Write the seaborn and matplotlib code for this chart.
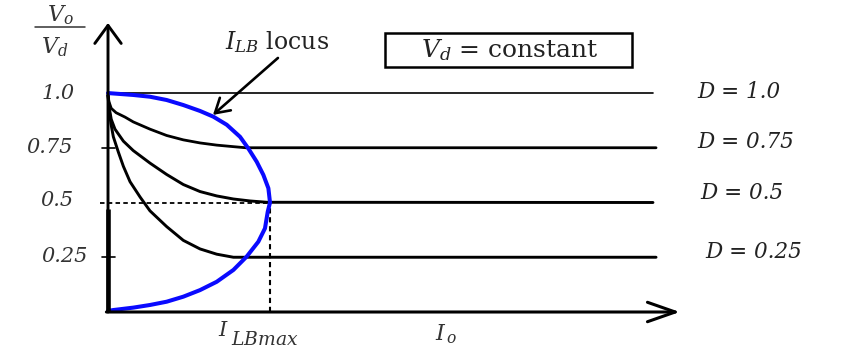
import matplotlib
matplotlib.use("Agg")
import matplotlib.pyplot as plt
from matplotlib.patches import Rectangle
import pandas as pd
import seaborn as sns

sns.set_theme(style="white")
plt.rcParams["font.family"] = ["DejaVu Serif"]
plt.rcParams["mathtext.fontset"] = "dejavuserif"

# Output ratio Vo/Vd against load current Io (Io in units of I_LBmax)
duty_labels = ["D = 1.0", "D = 0.75", "D = 0.5", "D = 0.25"]

d100_io = [0.0, 3.364]
d100_vo = [1.0, 1.0]

d75_io = [0.0, 0.006, 0.02, 0.05, 0.105, 0.156, 0.259, 0.362, 0.465, 0.568, 0.671, 0.774, 0.85, 3.383]
d75_vo = [0.99, 0.96, 0.93, 0.91, 0.89, 0.868, 0.835, 0.806, 0.786, 0.772, 0.762, 0.755, 0.75, 0.75]

d50_io = [0.0, 0.008, 0.02, 0.043, 0.095, 0.156, 0.259, 0.362, 0.465, 0.568, 0.671, 0.774, 0.877, 0.98, 3.364]
d50_vo = [0.99, 0.93, 0.88, 0.835, 0.78, 0.737, 0.68, 0.628, 0.582, 0.55, 0.53, 0.516, 0.507, 0.501, 0.5]

d25_io = [0.0, 0.006, 0.018, 0.033, 0.064, 0.095, 0.136, 0.198, 0.259, 0.362, 0.465, 0.568, 0.671, 0.774, 3.383]
d25_vo = [0.99, 0.93, 0.86, 0.80, 0.73, 0.665, 0.595, 0.525, 0.462, 0.39, 0.327, 0.288, 0.264, 0.25, 0.25]

# boundary between continuous and discontinuous conduction
locus_io = [0.0, 0.012, 0.156, 0.259, 0.362, 0.465, 0.568, 0.650, 0.733, 0.815, 0.866,
            0.918, 0.959, 0.990, 1.0, 0.986, 0.969, 0.928, 0.856, 0.774, 0.671, 0.568,
            0.465, 0.362, 0.259, 0.156, 0.033, 0.0]
locus_vo = [1.0, 0.999, 0.991, 0.983, 0.968, 0.945, 0.918, 0.892, 0.855, 0.800, 0.747,
            0.686, 0.626, 0.565, 0.5, 0.458, 0.382, 0.321, 0.253, 0.192, 0.138, 0.100,
            0.070, 0.047, 0.032, 0.020, 0.009, 0.005]

ytick_values = [1.0, 0.75, 0.5, 0.25]
ytick_labels = ["1.0", "0.75", "0.5", "0.25"]

curves = pd.concat(
    [
        pd.DataFrame({"io": io, "vo": vo, "duty": lab})
        for lab, io, vo in zip(
            duty_labels,
            [d100_io, d75_io, d50_io, d25_io],
            [d100_vo, d75_vo, d50_vo, d25_vo],
        )
    ],
    ignore_index=True,
)
locus = pd.DataFrame({"io": locus_io, "vo": locus_vo})

fig = plt.figure(figsize=(8.44, 3.49), dpi=100)
ax = fig.add_axes([0, 0, 1, 1])
ax.set_xlim(-0.6667, 4.5432)
ax.set_ylim(-0.16895, 1.42466)
ax.axis("off")

# duty-cycle curves
line_widths = {"D = 1.0": 1.2, "D = 0.75": 2.0, "D = 0.5": 2.1, "D = 0.25": 2.1}
for lab in duty_labels:
    sns.lineplot(data=curves[curves["duty"] == lab], x="io", y="vo", sort=False,
                 estimator=None, color="black", linewidth=line_widths[lab],
                 solid_joinstyle="round", ax=ax, legend=False, zorder=3)

# reference dashes at the peak boundary current
ax.plot([-0.049, 1.0], [0.5, 0.5], color="black", lw=1.3, ls=(0, (2.5, 1.8)), zorder=2)
ax.plot([1.0, 1.0], [0.0, 0.5], color="black", lw=1.5, ls=(0, (2.5, 1.8)), zorder=2)

sns.lineplot(data=locus, x="io", y="vo", sort=False, estimator=None,
             color="#0a0aff", linewidth=2.9, solid_joinstyle="round", ax=ax, zorder=4)

# axes with arrow heads
ax.plot([0, 0], [0, 0.47], color="black", lw=3.3, solid_capstyle="butt", zorder=5)
ax.annotate("", xy=(0, 1.32), xytext=(0, 0.0),
            arrowprops=dict(arrowstyle="->,head_length=13,head_width=9.5",
                            mutation_scale=1, lw=2.1, color="black",
                            shrinkA=0, shrinkB=0), zorder=5)
ax.annotate("", xy=(3.53, 0), xytext=(-0.01, 0),
            arrowprops=dict(arrowstyle="->,head_length=20,head_width=7",
                            mutation_scale=1, lw=2.2, color="black",
                            shrinkA=0, shrinkB=0), zorder=5)

# y ticks and labels
for v in [0.75, 0.25]:
    ax.plot([-0.037, 0.043], [v, v], color="black", lw=1.2, zorder=5)
label_x = {"1.0": -0.204, "0.75": -0.216, "0.5": -0.216, "0.25": -0.123}
label_dy = {"1.0": 0.0, "0.75": 0.0, "0.5": 0.008, "0.25": 0.002}
for v, t in zip(ytick_values, ytick_labels):
    ax.text(label_x[t], v + label_dy[t], t, ha="right", va="center",
            fontsize=15, style="italic", color="#333333")

# duty-cycle labels on the right
duty_pos = {"D = 1.0": (3.636, 1.005), "D = 0.75": (3.636, 0.776),
            "D = 0.5": (3.654, 0.543), "D = 0.25": (3.685, 0.274)}
for lab in duty_labels:
    x, y = duty_pos[lab]
    ax.text(x, y, lab, ha="left", va="center", fontsize=15.5, style="italic",
            color="#222222")

# y-axis quantity Vo/Vd
ax.text(-0.296, 1.356, r"$V_o$", ha="center", va="center", fontsize=16, color="#333333")
ax.plot([-0.451, -0.142], [1.301, 1.301], color="#333333", lw=1.1)
ax.text(-0.327, 1.210, r"$V_d$", ha="center", va="center", fontsize=16, color="#333333")

# x-axis quantities
ax.text(0.679, -0.083, r"$I$", ha="left", va="center", fontsize=15, color="#333333")
ax.text(0.76, -0.128, r"$LBmax$", ha="left", va="center", fontsize=13.5, color="#333333")
ax.text(2.02, -0.10, r"$I_{\,o}$", ha="left", va="center", fontsize=16, color="#333333")

# locus label with pointer
ax.text(0.722, 1.233, r"$I_{LB}$ locus", ha="left", va="center", fontsize=17, color="#222222")
ax.annotate("", xy=(0.648, 0.90), xytext=(1.049, 1.160),
            arrowprops=dict(arrowstyle="->,head_length=10,head_width=6",
                            mutation_scale=1, lw=1.9, color="black",
                            shrinkA=0, shrinkB=0), zorder=6)

# boxed note
ax.add_patch(Rectangle((1.710, 1.119), 1.525, 0.155, fill=False,
                       edgecolor="black", lw=1.8, zorder=6))
ax.text(2.481, 1.196, r"$V_d$ = constant", ha="center", va="center",
        fontsize=18, color="#222222")

fig.savefig("out.png", dpi=100)
